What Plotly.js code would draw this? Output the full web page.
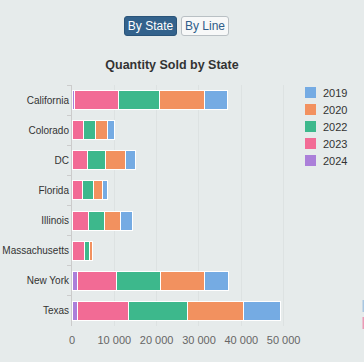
<!DOCTYPE html>
<html>
<head>
<meta charset="utf-8">
<script src="https://cdn.plot.ly/plotly-3.0.1.min.js"></script>
<style>
  html, body { margin: 0; padding: 0; background: #e6ebeb; }
  #wrap { position: relative; width: 364px; height: 362px; overflow: hidden; }
  #chart { position: absolute; left: 0; top: 0; width: 364px; height: 362px; }
  .btn { position: absolute; top: 16px; height: 20px; box-sizing: border-box; font-family: "Liberation Sans", Arial, sans-serif; font-size: 12px; line-height: 18px; text-align: center; border-radius: 3px; z-index: 5; }
  #b1 { left: 124px; width: 53px; background: #33628c; color: #ffffff; border: 1px solid #2a5479; }
  #b2 { left: 181px; width: 48px; background: #f7f8f8; color: #2e5d8a; border: 1px solid #b9c0c4; }
</style>
</head>
<body>
<div id="wrap">
  <div class="btn" id="b1">By State</div>
  <div class="btn" id="b2">By Line</div>
  <div id="chart"></div>
</div>
<script>
const states = ['California','Colorado','DC','Florida','Illinois','Massachusetts','New York','Texas'];
const years = ['2024','2023','2022','2020','2019'];
const colors = ['#ab7fd9','#f26b95','#3db88c','#f2915f','#75abe3'];
const v2024 = [700, null, null, null, null, null, 1200, 1200];
const v2023 = [10200, 2600, 3600, 2400, 3800, 2900, 9300, 12100];
const v2022 = [9700, 2900, 4300, 2600, 3800, 1200, 10500, 14000];
const v2020 = [10700, 2900, 4800, 2100, 3800, 700, 10200, 13300];
const v2019 = [5500, 1700, 2300, 1400, 2900, null, 5700, 8600];
const series = [v2024, v2023, v2022, v2020, v2019];

const font = '"Liberation Sans", Arial, sans-serif';

const traces = series.map((vals, i) => ({
  type: 'bar',
  orientation: 'h',
  name: years[i],
  y: states,
  x: vals,
  marker: { color: colors[i], line: { color: '#ffffff', width: 1 } },
  showlegend: false,
  hoverinfo: 'x+name'
}));

// custom legend (2019 at top down to 2024)
const shapes = [];
const annotations = [];
const legendOrder = [4, 3, 2, 1, 0];
legendOrder.forEach((idx, k) => {
  const cy = 92.5 + k * 17;
  shapes.push({
    type: 'rect', xref: 'paper', yref: 'paper',
    x0: (305 - 72) / 218, x1: (316 - 72) / 218,
    y0: (326 - (cy + 5.5)) / 241, y1: (326 - (cy - 5.5)) / 241,
    fillcolor: colors[idx], line: { width: 0 }
  });
  annotations.push({
    xref: 'paper', yref: 'paper',
    x: (321 - 72) / 218, y: (326 - cy) / 241,
    xanchor: 'left', yanchor: 'middle', showarrow: false,
    text: years[idx], font: { family: font, size: 11, color: '#333333' }
  });
});
// partially visible elements at right edge
shapes.push({ type: 'rect', xref: 'paper', yref: 'paper', x0: (362.5 - 72) / 218, x1: (365 - 72) / 218, y0: (326 - 312) / 241, y1: (326 - 300) / 241, fillcolor: '#a9c7e2', line: { width: 0 } });
shapes.push({ type: 'rect', xref: 'paper', yref: 'paper', x0: (362.5 - 72) / 218, x1: (365 - 72) / 218, y0: (326 - 329) / 241, y1: (326 - 317) / 241, fillcolor: '#eb9ab6', line: { width: 0 } });

const layout = {
  width: 364, height: 362,
  margin: { l: 72, r: 74, t: 85, b: 36 },
  paper_bgcolor: '#e6ebeb',
  plot_bgcolor: '#e6ebeb',
  barmode: 'stack',
  bargap: 0.37,
  separators: '. ',
  showlegend: false,
  font: { family: font, size: 11, color: '#333333' },
  title: {
    text: 'Quantity Sold by State',
    x: 172 / 364, xref: 'container', xanchor: 'center',
    y: 1 - 65 / 362, yref: 'container', yanchor: 'middle',
    font: { family: font, size: 12.5, color: '#333333', weight: 'bold' }
  },
  xaxis: {
    range: [0, 51500],
    dtick: 10000,
    tickformat: ',d',
    showgrid: true,
    gridcolor: '#dde2e2',
    gridwidth: 1,
    zeroline: false,
    showline: false,
    ticks: '',
    ticklabelstandoff: 6,
    tickfont: { family: font, size: 11, color: '#666666' },
    fixedrange: true
  },
  yaxis: {
    autorange: 'reversed',
    showline: true,
    linecolor: '#cccccc',
    linewidth: 1,
    ticks: 'outside',
    tickson: 'boundaries',
    ticklen: 4,
    tickcolor: '#cccccc',
    showgrid: false,
    tickfont: { family: font, size: 10, color: '#333333' },
    fixedrange: true
  },
  shapes: shapes,
  annotations: annotations
};

Plotly.newPlot('chart', traces, layout, { displayModeBar: false, staticPlot: false });
</script>
</body>
</html>
